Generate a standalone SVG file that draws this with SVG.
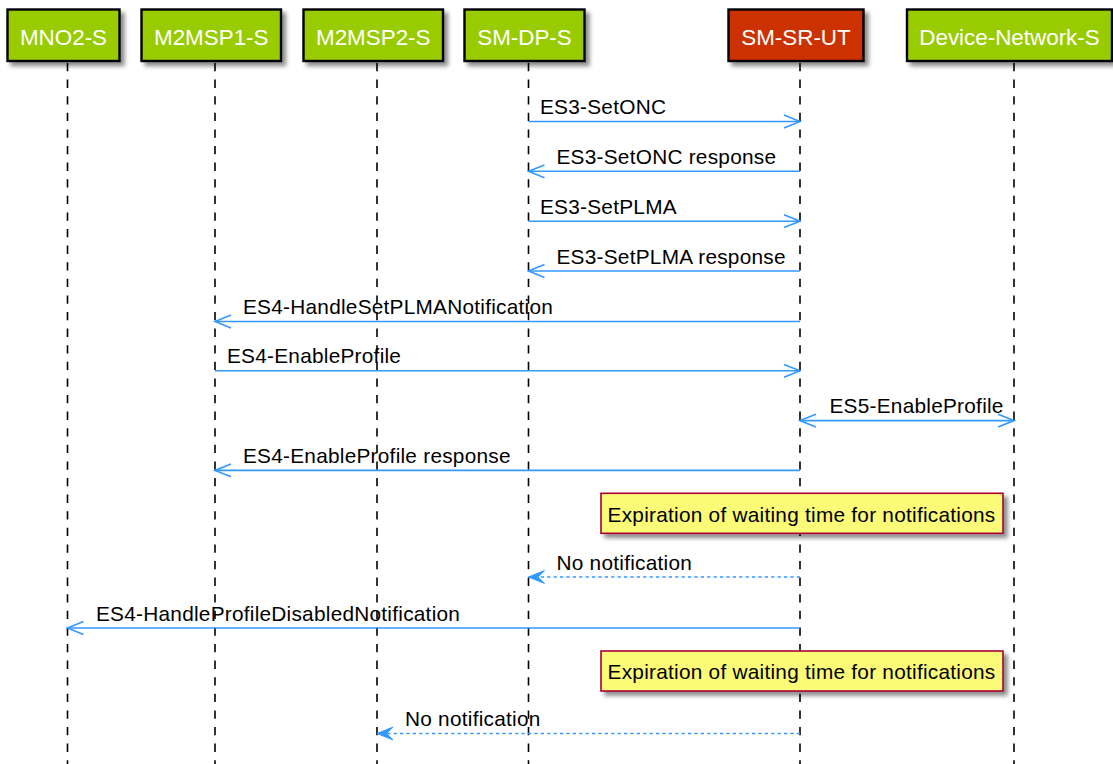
<svg xmlns="http://www.w3.org/2000/svg" width="1113" height="764" viewBox="0 0 1113 764">
<style>
.lifeline{stroke:#000;stroke-width:1.6;stroke-dasharray:8.3 8.3;fill:none}
.pbox{stroke:#000;stroke-width:2.4;filter:url(#shadow)}
.green{fill:#99CC00}
.red{fill:#CC3300}
.ptext{font-family:"Liberation Sans",Arial,sans-serif;font-size:22.4px;fill:#FFFFFF;text-anchor:middle}
.msg{stroke:#3399FF;stroke-width:1.6;fill:none}
.async{marker-end:url(#open)}
.dotted{stroke-dasharray:3.2 3.2;marker-end:url(#filled)}
.mtext{font-family:"Liberation Sans",Arial,sans-serif;font-size:20.8px;letter-spacing:0.25px;fill:#000}
.note{fill:#FBFB77;stroke:#A80036;stroke-width:1.6;filter:url(#shadow)}
</style>
<defs>
<filter id="shadow" x="-10%" y="-20%" width="130%" height="160%">
<feGaussianBlur in="SourceAlpha" stdDeviation="2"/>
<feOffset dx="4" dy="4" result="b"/>
<feComponentTransfer><feFuncA type="linear" slope="0.45"/></feComponentTransfer>
<feMerge><feMergeNode/><feMergeNode in="SourceGraphic"/></feMerge>
</filter>
<marker id="open" viewBox="-2 -2 20 17" refX="16" refY="6.4" markerWidth="20" markerHeight="17" markerUnits="userSpaceOnUse" orient="auto-start-reverse">
<path d="M0,0 L16,6.4 L0,12.8" fill="none" stroke="#3399FF" stroke-width="1.6"/>
</marker>
<marker id="filled" viewBox="-2 -2 20 17" refX="16" refY="6.4" markerWidth="20" markerHeight="17" markerUnits="userSpaceOnUse" orient="auto">
<polygon points="0,0 16,6.4 0,12.8 6.4,6.4" fill="#3399FF" stroke="#3399FF" stroke-width="1"/>
</marker>
</defs>
<rect width="1113" height="764" fill="#FFFFFF"/>
<g id="lifelines">
<line class="lifeline" x1="67.5" y1="63" x2="67.5" y2="764"/>
<line class="lifeline" x1="215" y1="63" x2="215" y2="764"/>
<line class="lifeline" x1="377" y1="63" x2="377" y2="764"/>
<line class="lifeline" x1="528.5" y1="63" x2="528.5" y2="764"/>
<line class="lifeline" x1="800" y1="63" x2="800" y2="764"/>
<line class="lifeline" x1="1014" y1="63" x2="1014" y2="764"/>
</g>
<g id="MNO2-S"><rect class="pbox green" x="7.5" y="9.5" width="112" height="51.5"/><text class="ptext" x="63.5" y="45">MNO2-S</text></g>
<g id="M2MSP1-S"><rect class="pbox green" x="141.5" y="9.5" width="139.5" height="51.5"/><text class="ptext" x="211.25" y="45">M2MSP1-S</text></g>
<g id="M2MSP2-S"><rect class="pbox green" x="303.5" y="9.5" width="139.5" height="51.5"/><text class="ptext" x="373.25" y="45">M2MSP2-S</text></g>
<g id="SM-DP-S"><rect class="pbox green" x="464.5" y="9.5" width="120" height="51.5"/><text class="ptext" x="524.5" y="45">SM-DP-S</text></g>
<g id="SM-SR-UT"><rect class="pbox red" x="728.5" y="9.5" width="135" height="51.5"/><text class="ptext" x="796" y="45">SM-SR-UT</text></g>
<g id="Device-Network-S"><rect class="pbox green" x="907" y="9.5" width="205" height="51.5"/><text class="ptext" x="1009.5" y="45">Device-Network-S</text></g>
<g id="connectors">
<line class="msg async" x1="528.5" y1="121.5" x2="800" y2="121.5"/>
<text class="mtext" x="540" y="114">ES3-SetONC</text>
<line class="msg async" x1="800" y1="171.3" x2="528.5" y2="171.3"/>
<text class="mtext" x="556.5" y="163.8">ES3-SetONC response</text>
<line class="msg async" x1="528.5" y1="221.2" x2="800" y2="221.2"/>
<text class="mtext" x="540" y="213.7">ES3-SetPLMA</text>
<line class="msg async" x1="800" y1="271" x2="528.5" y2="271"/>
<text class="mtext" x="556.5" y="263.5">ES3-SetPLMA response</text>
<line class="msg async" x1="800" y1="321.5" x2="215" y2="321.5"/>
<text class="mtext" x="243" y="314">ES4-HandleSetPLMANotification</text>
<line class="msg async" x1="215" y1="370.8" x2="800" y2="370.8"/>
<text class="mtext" x="227" y="363.3">ES4-EnableProfile</text>
<line class="msg async" x1="800" y1="420.6" x2="1014" y2="420.6" style="marker-start:url(#open)"/>
<text class="mtext" x="829.5" y="413.1">ES5-EnableProfile</text>
<line class="msg async" x1="800" y1="470.4" x2="215" y2="470.4"/>
<text class="mtext" x="243" y="462.9">ES4-EnableProfile response</text>
<line class="msg dotted" x1="800" y1="577" x2="528.5" y2="577"/>
<text class="mtext" x="556.5" y="569.5">No notification</text>
<line class="msg async" x1="800" y1="628" x2="67.5" y2="628"/>
<text class="mtext" x="96" y="620.5">ES4-HandleProfileDisabledNotification</text>
<line class="msg dotted" x1="800" y1="733.5" x2="377" y2="733.5"/>
<text class="mtext" x="405" y="726">No notification</text>
</g>
<g id="note1"><rect class="note" x="601" y="493.3" width="402" height="40"/><text class="mtext" x="607.6" y="521.7">Expiration of waiting time for notifications</text></g>
<g id="note2"><rect class="note" x="601" y="651" width="402" height="40"/><text class="mtext" x="607.6" y="679.4">Expiration of waiting time for notifications</text></g>
</svg>
